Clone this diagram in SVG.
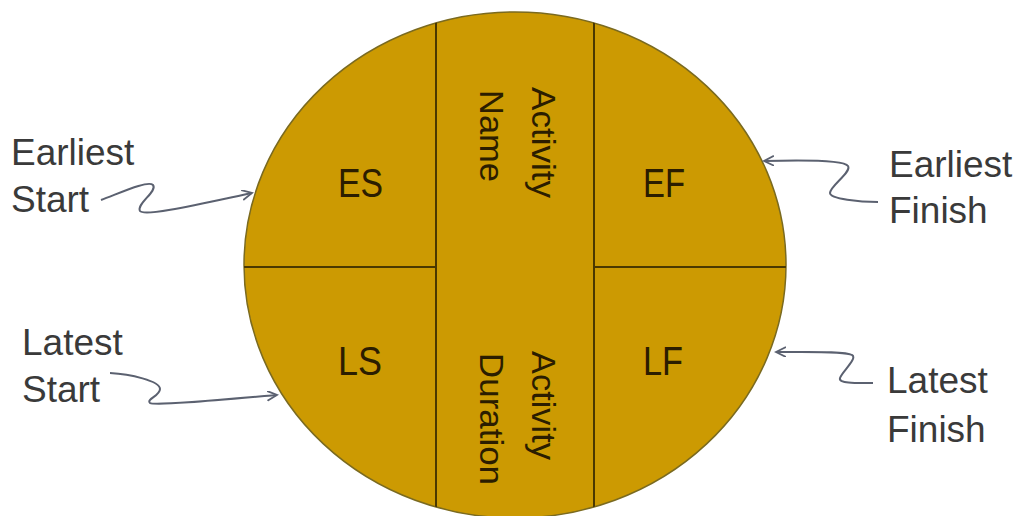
<svg xmlns="http://www.w3.org/2000/svg" width="1020" height="516" viewBox="0 0 1020 516">
  <style>
    .cell { font-family: "Liberation Sans", Arial, sans-serif; font-size: 40px; fill: #2b1d00; }
    .vert { font-family: "Liberation Sans", Arial, sans-serif; font-size: 34px; fill: #2b1d00; }
    .side { font-family: "Liberation Sans", Arial, sans-serif; font-size: 37px; fill: #3a3a3a; }
    .conn { fill: none; stroke: #5b6170; stroke-width: 2; marker-end: url(#arr); }
    .div { stroke: #4a3800; stroke-width: 2; fill: none; }
  </style>
  <defs>
    <marker id="arr" markerWidth="12" markerHeight="12" refX="10" refY="5" orient="auto" markerUnits="userSpaceOnUse">
      <path d="M0,0 L10,5 L0,10" fill="none" stroke="#5b6170" stroke-width="1.8"/>
    </marker>
    <clipPath id="clip">
      <ellipse cx="515" cy="265" rx="271" ry="253"/>
    </clipPath>
  </defs>
  <rect width="1020" height="516" fill="#ffffff"/>

  <g id="node-circle">
    <ellipse cx="515" cy="265" rx="271" ry="253" fill="#cc9a02" stroke="#7a6a20" stroke-width="1.5"/>
    <g clip-path="url(#clip)">
      <line class="div" x1="436" y1="0" x2="436" y2="516"/>
      <line class="div" x1="594" y1="0" x2="594" y2="516"/>
      <line class="div" x1="240" y1="267" x2="436" y2="267"/>
      <line class="div" x1="594" y1="267" x2="790" y2="267"/>
    </g>
  </g>

  <g id="node-es"><text class="cell" x="338" y="197" textLength="45" lengthAdjust="spacingAndGlyphs">ES</text></g>
  <g id="node-ef"><text class="cell" x="643" y="197" textLength="42" lengthAdjust="spacingAndGlyphs">EF</text></g>
  <g id="node-ls"><text class="cell" x="338" y="375" textLength="44" lengthAdjust="spacingAndGlyphs">LS</text></g>
  <g id="node-lf"><text class="cell" x="643" y="375" textLength="40" lengthAdjust="spacingAndGlyphs">LF</text></g>

  <g id="node-activity-name">
    <text class="vert" transform="translate(532,87) rotate(90)" textLength="111" lengthAdjust="spacingAndGlyphs">Activity</text>
    <text class="vert" transform="translate(480,90) rotate(90)" textLength="92" lengthAdjust="spacingAndGlyphs">Name</text>
  </g>
  <g id="node-activity-duration">
    <text class="vert" transform="translate(532,351) rotate(90)" textLength="109" lengthAdjust="spacingAndGlyphs">Activity</text>
    <text class="vert" transform="translate(480,353) rotate(90)" textLength="132" lengthAdjust="spacingAndGlyphs">Duration</text>
  </g>

  <g id="node-earliest-start">
    <text class="side" x="11" y="165">Earliest</text>
    <text class="side" x="11" y="212">Start</text>
  </g>
  <g id="node-latest-start">
    <text class="side" x="22" y="355">Latest</text>
    <text class="side" x="22" y="402">Start</text>
  </g>
  <g id="node-earliest-finish">
    <text class="side" x="889" y="177">Earliest</text>
    <text class="side" x="889" y="223">Finish</text>
  </g>
  <g id="node-latest-finish">
    <text class="side" x="887" y="393">Latest</text>
    <text class="side" x="887" y="442">Finish</text>
  </g>

  <g id="connectors">
    <path class="conn" d="M101,200 C120,193 148,180 153,185 C158,191 136,204 140,211 C144,217 200,204 252,193"/>
    <path class="conn" d="M110,373 C130,374 160,381 160,389 C160,396 146,399 150,403 C155,406 220,400 277,395"/>
    <path class="conn" d="M878,202 C860,202 830,199 830,193 C830,186 852,172 848,166 C844,160 800,160 764,161"/>
    <path class="conn" d="M873,383 C860,383 838,384 840,378 C842,372 858,358 852,355 C846,351 810,352 776,352"/>
  </g>
</svg>
